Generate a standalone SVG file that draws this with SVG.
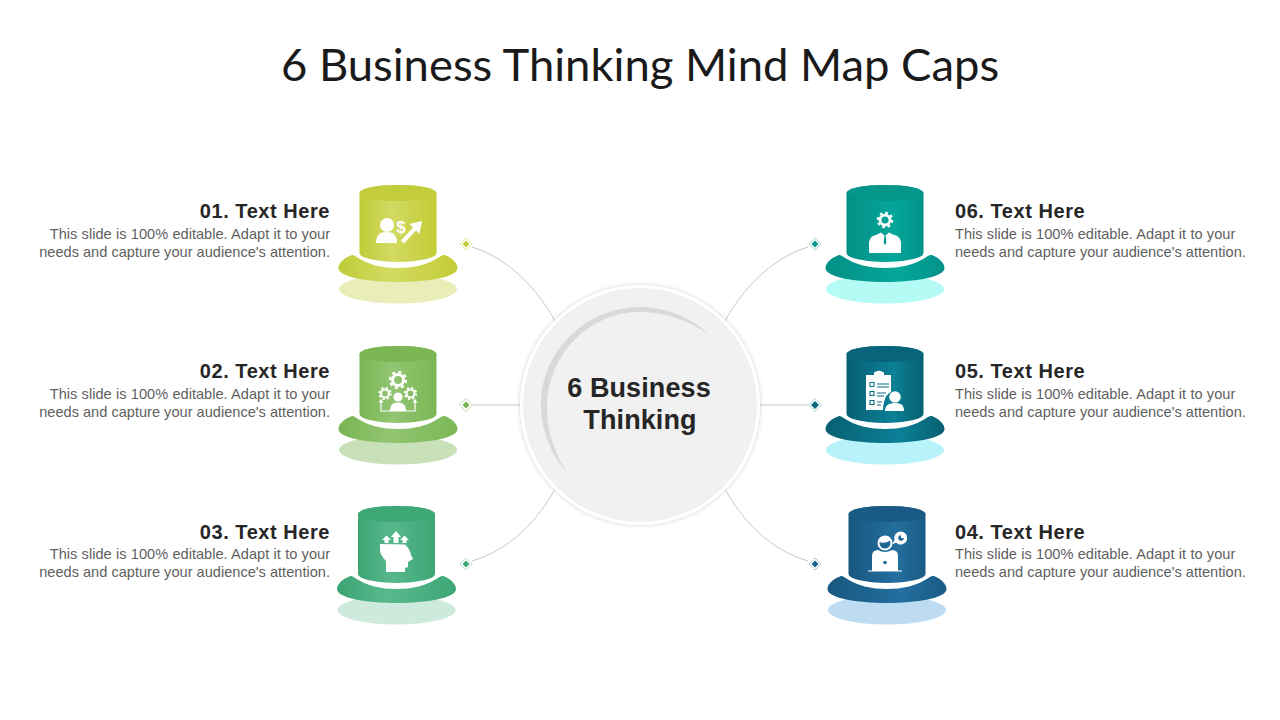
<svg xmlns="http://www.w3.org/2000/svg" width="1280" height="720" viewBox="0 0 1280 720">
<style>
.title{font-family:Lato,"Open Sans",sans-serif;font-weight:400;font-size:45.400px;fill:#1a1a1a;text-anchor:middle}
.h{font-family:"Liberation Sans",Arial,sans-serif;font-weight:700;font-size:20px;letter-spacing:.55px;fill:#262626}
.b{font-family:"Liberation Sans",Arial,sans-serif;font-size:14.600px;fill:#5f5f5f}
.b1{word-spacing:.25px}
.r{text-anchor:end}
.c{font-family:"Liberation Sans",Arial,sans-serif;font-weight:700;font-size:27px;fill:#262626;text-anchor:middle;letter-spacing:.1px}
.cn{fill:none;stroke:#c9c9c9;stroke-width:1}
.w{fill:#fff}
.wl{fill:none;stroke:#fff;stroke-width:1.200}
</style>
<defs>
<filter id="sh" x="-10%" y="-10%" width="120%" height="120%"><feDropShadow dx="0" dy="0" stdDeviation="2" flood-color="#000" flood-opacity=".2"/></filter>
<linearGradient id="g1"><stop offset="0" stop-color="#c0cb38"/><stop offset=".42" stop-color="#d3da62"/><stop offset="1" stop-color="#c2cc36"/></linearGradient>
<linearGradient id="g2"><stop offset="0" stop-color="#78b553"/><stop offset=".42" stop-color="#92c572"/><stop offset="1" stop-color="#7bb755"/></linearGradient>
<linearGradient id="g3"><stop offset="0" stop-color="#3ca574"/><stop offset=".42" stop-color="#58b88c"/><stop offset="1" stop-color="#3ea776"/></linearGradient>
<linearGradient id="g6"><stop offset="0" stop-color="#048f86"/><stop offset=".62" stop-color="#04a69a"/><stop offset="1" stop-color="#04938a"/></linearGradient>
<linearGradient id="g5"><stop offset="0" stop-color="#075f73"/><stop offset=".62" stop-color="#0b8097"/><stop offset="1" stop-color="#07606f"/></linearGradient>
<linearGradient id="g4"><stop offset="0" stop-color="#18577f"/><stop offset=".62" stop-color="#236f9f"/><stop offset="1" stop-color="#1a5b85"/></linearGradient>
<path id="body" d="M-38.500 8A38.500 8 0 0 1 38.500 8V68A38.500 9 0 0 1-38.500 68Z"/>
<ellipse id="lid" cx="0" cy="8" rx="38.500" ry="8"/>
<path id="brim" d="M-46 70C-54 73-59.500 78-59.500 83C-59.500 92-30 97 0 97C30 97 59.500 92 59.500 83C59.500 78 54 73 47 70Q45 69.500 43 71C30 80 15 83 0 83C-15 83-30 80-43 71Q-45 69.500-46 70Z"/>
<ellipse id="shadow" cx="0" cy="104" rx="59" ry="14.500"/>
<g id="gear"><circle r="5.500" fill="none" stroke="#fff" stroke-width="3"/><circle r="8" fill="none" stroke="#fff" stroke-width="2.400" stroke-dasharray="3.140 3.140"/></g>
</defs>

<text class="title" x="640" y="81">6 Business Thinking Mind Map Caps</text>

<g id="connectors">
<path class="cn" d="M472 247C510 259 538 290 555 321"/>
<path class="cn" d="M473 405H520"/>
<path class="cn" d="M472 561C510 550 538 520 555 489"/>
<path class="cn" d="M808 247C770 259 742 290 725 321"/>
<path class="cn" d="M760 405H808"/>
<path class="cn" d="M808 561C770 550 742 520 725 489"/>
</g>

<g id="center">
<circle cx="640" cy="405" r="118.500" fill="#f1f1f1" stroke="#fff" stroke-width="3" filter="url(#sh)"/>
<path d="M712 337C690 316 664 307 640 307C586 307 541 351 541 405C541 432 552 456 567 472C555 454 547 432 547 408C547 356 588 312 640 312C668 312 692 322 712 337Z" fill="#d9d9d9"/>
<text class="c" x="639" y="397">6 Business</text>
<text class="c" x="640" y="429">Thinking</text>
</g>

<g id="node1">
<use href="#shadow" x="398" y="185" fill="#e9eeb9"/>
<use href="#brim" x="398" y="185" fill="url(#g1)"/>
<use href="#body" x="398" y="185" fill="url(#g1)"/>
<use href="#lid" x="398" y="185" fill="#c3cd3c"/>
<circle class="w" cx="387" cy="225" r="7"/>
<path class="w" d="M376 243C376 235 380 232 387 232C393 232 397 235 397 243Z"/>
<text x="401" y="233" font-family="Liberation Sans, sans-serif" font-weight="700" font-size="17" fill="#fff" text-anchor="middle">$</text>
<path class="w" d="M422 221L419.500 234L416 230.500L404 243.500L401 240.500L413 227.500L409.500 224Z"/>
<path d="M466 238L472 244L466 250L460 244Z" fill="#fff" stroke="#dfe49a"/>
<path d="M466 240.500L469.500 244L466 247.500L462.500 244Z" fill="#c3cd3c"/>
<text class="h r" x="330" y="218">01. Text Here</text>
<text class="b b1 r" x="330" y="239">This slide is 100% editable. Adapt it to your</text>
<text class="b r" x="330" y="257">needs and capture your audience's attention.</text>
</g>

<g id="node2">
<use href="#shadow" x="398" y="346" fill="#c9e1b9"/>
<use href="#brim" x="398" y="346" fill="url(#g2)"/>
<use href="#body" x="398" y="346" fill="url(#g2)"/>
<use href="#lid" x="398" y="346" fill="#7ab654"/>
<use href="#gear" transform="translate(398 380)"/>
<use href="#gear" transform="translate(385 393.500) scale(.72)"/>
<use href="#gear" transform="translate(410.500 393.500) scale(.72)"/>
<circle class="w" cx="398" cy="397" r="4.500"/>
<path class="w" d="M390 411C390 405 393 402.500 398 402.500C403 402.500 406 405 406 411Z"/>
<path class="wl" d="M381 401V411H415V401"/>
<path class="w" d="M381 399L383.500 402.500H378.500ZM415 399L417.500 402.500H412.500Z"/>
<path d="M466 398.500L472.500 405L466 411.500L459.500 405Z" fill="#fff" stroke="#bcdaa8"/>
<path d="M466 401.500L469.500 405L466 408.500L462.500 405Z" fill="#76b34f"/>
<text class="h r" x="330" y="378">02. Text Here</text>
<text class="b b1 r" x="330" y="399">This slide is 100% editable. Adapt it to your</text>
<text class="b r" x="330" y="417">needs and capture your audience's attention.</text>
</g>

<g id="node3">
<use href="#shadow" x="396.500" y="506" fill="#cdeadd"/>
<use href="#brim" x="396.500" y="506" fill="url(#g3)"/>
<use href="#body" x="396.500" y="506" fill="url(#g3)"/>
<use href="#lid" x="396.500" y="506" fill="#3ea776"/>
<path class="w" d="M380 544L405 544.500Q410 549 411 555L413 559L408 562V567L405 568V572H386V561Q380 555 380 550Z"/>
<path class="w" d="M396 531L401 537H398.500V543H393.500V537H391ZM386.500 535.500L391 540H388.500V543H384.500V540H382ZM404.500 535.500L409 540H406.500V543H402.500V540H400Z"/>
<path d="M466 558L472 564L466 570L460 564Z" fill="#fff" stroke="#b7dfcb"/>
<path d="M466 560.500L469.500 564L466 567.500L462.500 564Z" fill="#3da674"/>
<text class="h r" x="330" y="539">03. Text Here</text>
<text class="b b1 r" x="330" y="559">This slide is 100% editable. Adapt it to your</text>
<text class="b r" x="330" y="577">needs and capture your audience's attention.</text>
</g>

<g id="node6">
<use href="#shadow" x="885" y="185" fill="#b4fbf6"/>
<use href="#brim" x="885" y="185" fill="url(#g6)"/>
<use href="#body" x="885" y="185" fill="url(#g6)"/>
<use href="#lid" x="885" y="185" fill="#03968b"/>
<use href="#gear" transform="translate(885 220) scale(.9)"/>
<path class="w" d="M869 253V242Q870 236 876 235L881 232.500L885 236L889 232.500L894 235Q900 236 901 242V253Z"/>
<path d="M884.300 236H885.700L886.300 243L885 245L883.700 243Z" fill="#04968c"/>
<path d="M815 238L821 244L815 250L809 244Z" fill="#fff" stroke="#a7dcd7"/>
<path d="M815 240.500L818.500 244L815 247.500L811.500 244Z" fill="#049a8e"/>
<text class="h" x="955" y="218">06. Text Here</text>
<text class="b b1" x="955" y="239">This slide is 100% editable. Adapt it to your</text>
<text class="b" x="955" y="257">needs and capture your audience's attention.</text>
</g>

<g id="node5">
<use href="#shadow" x="885" y="346" fill="#b8f3fb"/>
<use href="#brim" x="885" y="346" fill="url(#g5)"/>
<use href="#body" x="885" y="346" fill="url(#g5)"/>
<use href="#lid" x="885" y="346" fill="#07647a"/>
<path class="w" d="M866 375H874V372.500Q879 369 884 372.500V375H891V392Q886 394 884 402Q883 406 883 410H866Z"/>
<g fill="none" stroke="#0a6f83" stroke-width="1.100"><path d="M870 382.500H874V386.500H870ZM870 391.500H874V395.500H870ZM870 400.500H874V404.500H870Z"/><path d="M877 384H889M877 387H889M877 393H886M877 396H884M877 402H882M877 405H881"/></g>
<circle class="w" cx="895" cy="397" r="5.800"/>
<path class="w" d="M885 411C885 405 889 403 895 403C901 403 904 405 904 411Z"/>
<path d="M815 398.500L821.500 405L815 411.500L808.500 405Z" fill="#fff" stroke="#a7d1da"/>
<path d="M815 401L819 405L815 409L811 405Z" fill="#08697c"/>
<text class="h" x="955" y="378">05. Text Here</text>
<text class="b b1" x="955" y="399">This slide is 100% editable. Adapt it to your</text>
<text class="b" x="955" y="417">needs and capture your audience's attention.</text>
</g>

<g id="node4">
<use href="#shadow" x="887" y="506" fill="#bddcf1"/>
<use href="#brim" x="887" y="506" fill="url(#g4)"/>
<use href="#body" x="887" y="506" fill="url(#g4)"/>
<use href="#lid" x="887" y="506" fill="#195b85"/>
<circle cx="885" cy="543" r="6.500" fill="#1f6795" stroke="#fff" stroke-width="2"/>
<path class="w" d="M879 542Q886 544 891 540Q889 535.500 885 536Q880 536.500 879 542Z"/>
<path class="w" d="M872 571V556Q872 550 878 550Q885 554 892 550Q898 550 898 556V571Z"/>
<path class="wl" d="M868 571H902"/>
<circle cx="885" cy="562.500" r="1.800" fill="#1f6795"/>
<path class="w" d="M900.500 531.500A6.500 6.500 0 1 1 896 542.500L892 544.500L894.500 540A6.500 6.500 0 0 1 900.500 531.500Z"/>
<circle cx="901" cy="538" r="2.700" fill="#1f6795"/><path class="w" d="M901 538V534.500H905V538Z"/>
<path d="M815 558L821 564L815 570L809 564Z" fill="#fff" stroke="#a9c6da"/>
<path d="M815 560.500L818.500 564L815 567.500L811.500 564Z" fill="#1b5f8c"/>
<text class="h" x="955" y="539">04. Text Here</text>
<text class="b b1" x="955" y="559">This slide is 100% editable. Adapt it to your</text>
<text class="b" x="955" y="577">needs and capture your audience's attention.</text>
</g>
</svg>
